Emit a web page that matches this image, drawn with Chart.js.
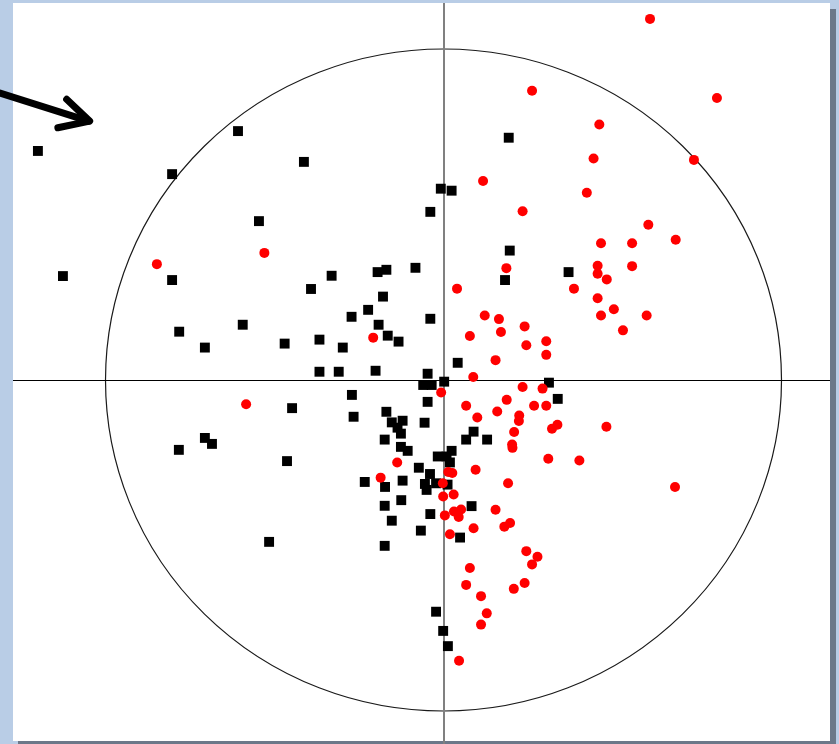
<!DOCTYPE html>
<html>
<head>
<meta charset="utf-8">
<script src="https://cdn.jsdelivr.net/npm/chart.js@4/dist/chart.umd.min.js"></script>
<style>
  html, body { margin: 0; padding: 0; }
  body { width: 839px; height: 744px; background: #b9cde6; position: relative; overflow: hidden; }
  #white { position: absolute; left: 13px; top: 3px; width: 817px; height: 738px; background: #ffffff; }
  #grayR { position: absolute; left: 830px; top: 9px; width: 6px; height: 735px; background: #6c7889; }
  #grayB { position: absolute; left: 18px; top: 741px; width: 818px; height: 3px; background: #6c7889; }
  canvas { position: absolute; left: 0; top: 0; }
</style>
</head>
<body>
<div id="white"></div>
<div id="grayR"></div>
<div id="grayB"></div>
<canvas id="c" width="839" height="744"></canvas>
<script>
// Group 1 (black squares)
const blackX = [-1.200,-1.126,-0.608,-0.413,-0.803,-0.546,-0.803,-0.782,-0.706,-0.594,-0.470,-0.392,-0.331,-0.195,-0.169,-0.083,-0.179,-0.223,-0.272,-0.192,-0.039,-0.367,-0.165,-0.133,-0.298,-0.367,-0.310,-0.201,-0.047,-0.060,-0.035,0.002,0.042,0.196,0.182,0.370,0.312,0.338,-0.271,-0.047,-0.266,-0.169,-0.153,-0.121,-0.056,-0.136,-0.126,-0.174,0.067,-0.126,-0.106,0.024,-0.017,0.009,0.019,-0.073,-0.040,-0.233,-0.121,-0.055,-0.022,0.012,-0.050,-0.173,0.089,0.129,-0.125,-0.174,0.083,-0.039,-0.153,-0.067,0.049,-0.174,-0.022,-0.001,0.013,0.193,-0.008,0.024,-0.039,-0.783,-0.706,-0.685,-0.463,-0.448,-0.516];
const blackY = [0.692,0.314,0.752,0.659,0.622,0.480,0.302,0.146,0.098,0.167,0.110,0.275,0.315,0.326,0.333,0.339,0.252,0.212,0.191,0.167,0.185,0.122,0.134,0.116,0.098,0.025,0.025,0.028,0.019,-0.015,-0.015,-0.005,0.052,0.391,0.302,0.326,-0.008,-0.057,-0.045,-0.066,-0.111,-0.096,-0.128,-0.123,-0.129,-0.144,-0.162,-0.180,-0.180,-0.202,-0.214,-0.214,-0.231,-0.231,-0.249,-0.265,-0.284,-0.308,-0.304,-0.314,-0.312,-0.316,-0.332,-0.323,-0.156,-0.180,-0.363,-0.380,-0.381,-0.405,-0.425,-0.455,-0.476,-0.501,-0.700,-0.758,-0.804,0.732,0.578,0.572,0.508,-0.211,-0.175,-0.193,-0.245,-0.085,-0.489];

// Group 2 (red circles)
const redX = [0.611,0.262,0.809,0.461,0.444,0.741,0.424,0.117,0.234,0.606,0.466,0.558,0.687,0.456,0.558,0.456,0.483,0.386,0.456,0.504,0.466,0.601,0.531,0.186,0.040,0.122,0.164,0.078,0.170,0.240,0.245,0.304,0.304,0.154,0.088,0.234,0.293,-0.007,-0.208,-0.848,-0.530,-0.584,0.067,0.187,0.159,0.100,0.268,0.304,0.224,0.223,0.321,0.337,0.482,0.209,0.203,0.204,0.310,0.402,0.095,0.014,0.026,-0.137,-0.186,0.191,-0.002,0.030,-0.001,0.685,0.154,0.052,0.031,0.045,0.004,0.180,0.197,0.089,0.019,0.245,0.278,0.262,0.078,0.067,0.240,0.208,0.111,0.128,0.111,0.046];
const redY = [1.091,0.874,0.852,0.772,0.669,0.665,0.566,0.601,0.510,0.469,0.413,0.413,0.424,0.345,0.344,0.321,0.304,0.276,0.247,0.214,0.195,0.195,0.150,0.338,0.276,0.195,0.184,0.133,0.145,0.162,0.105,0.117,0.076,0.060,0.009,-0.021,-0.026,-0.038,0.128,0.350,0.384,-0.073,-0.078,-0.060,-0.095,-0.113,-0.078,-0.078,-0.107,-0.124,-0.147,-0.135,-0.141,-0.157,-0.195,-0.205,-0.238,-0.243,-0.271,-0.278,-0.281,-0.249,-0.295,-0.312,-0.312,-0.346,-0.352,-0.323,-0.392,-0.391,-0.397,-0.414,-0.409,-0.443,-0.432,-0.448,-0.466,-0.517,-0.534,-0.557,-0.568,-0.619,-0.613,-0.631,-0.653,-0.705,-0.739,-0.848];

// Axis ranges (correlation circle of radius 1)
const xRange = [-1.2737, 1.1435];
const yRange = [-1.0906, 1.139];
const circleRadius = 1;

// Arrow annotation in data units: shaft start, tip, head arms
const arrowStart = [-1.312, 0.867];
const arrowTip = [-1.041, 0.779];
const arrowArm1 = [-1.115, 0.848];
const arrowArm2 = [-1.141, 0.762];

const toPts = (xs, ys) => xs.map((x, i) => ({ x: x, y: ys[i] }));

const backdrop = {
  id: 'backdrop',
  beforeDatasetsDraw(chart) {
    const { ctx, chartArea: a, scales: { x, y } } = chart;
    const cx = x.getPixelForValue(0), cy = y.getPixelForValue(0);
    const rx = x.getPixelForValue(circleRadius) - cx;
    const ry = cy - y.getPixelForValue(circleRadius);
    ctx.save();
    // correlation circle
    ctx.beginPath();
    ctx.ellipse(cx, cy, rx, ry, 0, 0, Math.PI * 2);
    ctx.strokeStyle = '#1a1a1a';
    ctx.lineWidth = 1.2;
    ctx.stroke();
    // horizontal axis
    const hy = Math.round(cy) + 0.5;
    ctx.beginPath();
    ctx.moveTo(a.left, hy);
    ctx.lineTo(a.right, hy);
    ctx.strokeStyle = '#000000';
    ctx.lineWidth = 1;
    ctx.stroke();
    // vertical axis
    ctx.beginPath();
    ctx.moveTo(Math.round(cx), a.top);
    ctx.lineTo(Math.round(cx), a.bottom + 3);
    ctx.strokeStyle = '#808080';
    ctx.lineWidth = 2;
    ctx.stroke();
    ctx.restore();
  },
  afterDraw(chart) {
    const { ctx, scales: { x, y } } = chart;
    const P = p => [x.getPixelForValue(p[0]), y.getPixelForValue(p[1])];
    const s = P(arrowStart), t = P(arrowTip), a1 = P(arrowArm1), a2 = P(arrowArm2);
    ctx.save();
    ctx.strokeStyle = '#000000';
    ctx.lineWidth = 7;
    ctx.lineCap = 'round';
    ctx.lineJoin = 'round';
    ctx.beginPath();
    ctx.moveTo(s[0], s[1]);
    ctx.lineTo(t[0] - 3, t[1] - 1);
    ctx.stroke();
    ctx.beginPath();
    ctx.moveTo(a1[0], a1[1]);
    ctx.lineTo(t[0] - 2, t[1] - 1);
    ctx.lineTo(a2[0], a2[1]);
    ctx.stroke();
    ctx.restore();
  }
};

new Chart(document.getElementById('c'), {
  type: 'scatter',
  data: {
    datasets: [
      {
        label: 'Group 2',
        data: toPts(redX, redY),
        pointStyle: 'circle',
        pointRadius: 5,
        backgroundColor: '#ff0000',
        borderColor: '#ff0000',
        borderWidth: 0,
        clip: false
      },
      {
        label: 'Group 1',
        data: toPts(blackX, blackY),
        pointStyle: 'rect',
        pointRadius: 7,
        backgroundColor: '#000000',
        borderColor: '#000000',
        borderWidth: 0,
        clip: false
      }
    ]
  },
  options: {
    responsive: false,
    animation: false,
    devicePixelRatio: 1,
    events: [],
    layout: { autoPadding: false, padding: { left: 13, top: 3, right: 9, bottom: 3 } },
    plugins: { legend: { display: false }, tooltip: { enabled: false } },
    scales: {
      x: { type: 'linear', min: xRange[0], max: xRange[1], display: false },
      y: { type: 'linear', min: yRange[0], max: yRange[1], display: false }
    }
  },
  plugins: [backdrop]
});
</script>
</body>
</html>
